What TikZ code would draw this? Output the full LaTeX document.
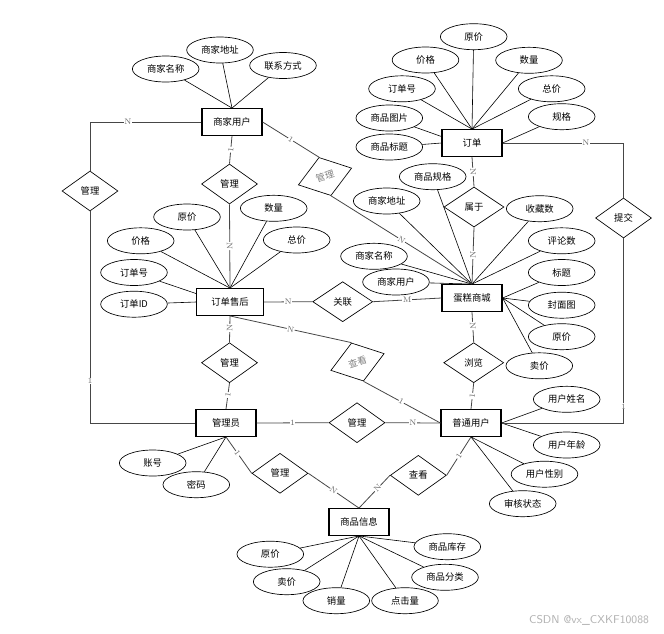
\documentclass[tikz,border=0pt]{standalone}
\usepackage{fontspec}
\usepackage{xcolor}
\usepackage{tikz}
\usetikzlibrary{shapes.geometric}
\newfontfamily\cjk{Noto Sans CJK SC}
\definecolor{cardgray}{RGB}{105,105,105}
\definecolor{linkgray}{RGB}{70,70,70}

\begin{document}
\begin{tikzpicture}[x=0.75pt, y=-0.75pt, font=\cjk\fontsize{7}{8}\selectfont,
    entity/.style={draw, line width=0.9pt, minimum width=45pt, minimum height=20pt, inner sep=1pt},
    attr/.style={draw, ellipse, line width=0.5pt, minimum width=50pt, minimum height=19.5pt, inner sep=0pt},
    rel/.style={draw, diamond, line width=0.5pt, minimum width=42pt, minimum height=30pt, inner sep=0pt},
    relwide/.style={rel, minimum width=45pt},
    reltilt/.style={rel, rotate=17.5, text=gray},
    link/.style={draw=linkgray, line width=0.6pt},
    attrline/.style={draw, line width=0.45pt},
    card/.style={font=\rmfamily\fontsize{6}{6}\selectfont, text=cardgray, fill=white, inner sep=0.3pt}]

    \useasboundingbox (0,0) rectangle (664,633);

    % Entities
    \node[entity] (merchant)  at (232,122) {商家用户};
    \node[entity] (order)     at (472,143) {订单};
    \node[entity, minimum width=50pt] (afterSale) at (230,302) {订单售后};
    \node[entity] (shop)      at (472,298) {蛋糕商城};
    \node[entity] (admin)     at (226,423) {管理员};
    \node[entity] (user)      at (471,423) {普通用户};
    \node[entity] (goods)     at (359,522) {商品信息};

    % Relationships
    \node[rel]     (mgrMerchantAdmin) at (90,191)     {管理};
    \node[rel]     (mgrMerchantAfter) at (229.5,184)  {管理};
    \node[reltilt] (mgrMerchantShop)  at (325,176.5)  {管理};
    \node[relwide] (belong)           at (474,207)    {属于};
    \node[rel]     (submit)           at (623.5,218)  {提交};
    \node[relwide] (assoc)            at (342.7,301.7){关联};
    \node[reltilt] (viewAfter)        at (357.5,362)  {查看};
    \node[rel]     (mgrAfterAdmin)    at (229.5,362.7){管理};
    \node[relwide] (browse)           at (473.7,362.7){浏览};
    \node[rel]     (mgrAdminUser)     at (357,422.7)  {管理};
    \node[rel]     (mgrAdminGoods)    at (280,473.3)  {管理};
    \node[rel]     (viewGoods)        at (418.3,475.3){查看};

    % Attributes of 商家用户
    \foreach \n/\x/\y/\t in {mA/165.7/69/商家名称, mB/220/50/商家地址, mC/283/65.5/联系方式} {
        \node[attr] (\n) at (\x,\y) {\t};
        \draw[attrline] (\n) -- (merchant.north);
    }
    % Attributes of 订单
    \foreach \n/\x/\y/\t/\a in {oA/473.7/36.7/原价/north, oB/425.5/60/价格/north,
        oC/529/60.3/数量/north, oD/402/88.8/订单号/north, oE/551.7/88.8/总价/north,
        oF/389.3/118/商品图片/168, oG/561.7/116.7/规格/east, oH/389.3/147/商品标题/west} {
        \node[attr] (\n) at (\x,\y) {\t};
        \draw[attrline] (\n) -- (order.\a);
    }
    % Attributes of 订单售后
    \foreach \n/\x/\y/\t/\a in {aA/187/217/原价/north, aB/273.7/208.3/数量/north,
        aC/140.7/240.8/价格/north, aD/296.7/240/总价/north,
        aE/134/272.5/订单号/166, aF/134/304.2/订单ID/west} {
        \node[attr] (\n) at (\x,\y) {\t};
        \draw[attrline] (\n) -- (afterSale.\a);
    }
    % Attributes of 蛋糕商城
    \foreach \n/\x/\y/\t/\a in {sA/432.7/176.7/商品规格/north, sB/386.7/201/商家地址/north,
        sC/539.7/208.7/收藏数/north, sD/561.7/240.8/评论数/north,
        sE/374/256.3/商家名称/north, sF/396/282/商家用户/north,
        sG/561.7/272.5/标题/east, sH/561.7/305.2/封面图/east,
        sI/561.7/336.7/原价/east, sJ/539.3/365.8/卖价/east} {
        \node[attr] (\n) at (\x,\y) {\t};
        \draw[attrline] (\n) -- (shop.\a);
    }
    % Attributes of 普通用户
    \foreach \n/\x/\y/\t/\a in {uA/566.7/399.3/用户姓名/east, uB/566.7/445/用户年龄/east,
        uC/544.5/474.2/用户性别/south, uD/522.7/503.7/审核状态/south} {
        \node[attr] (\n) at (\x,\y) {\t};
        \draw[attrline] (\n) -- (user.\a);
    }
    % Attributes of 管理员
    \foreach \n/\x/\y/\t in {dA/152.7/463/账号, dB/196.3/484.7/密码} {
        \node[attr] (\n) at (\x,\y) {\t};
        \draw[attrline] (\n) -- (admin.south);
    }
    % Attributes of 商品信息
    \foreach \n/\x/\y/\t in {gA/270.3/554.2/原价, gB/286.7/581.7/卖价, gC/336.3/600.7/销量,
        gD/405/600.7/点击量, gE/447.3/546.7/商品库存, gF/445/577.3/商品分类} {
        \node[attr] (\n) at (\x,\y) {\t};
        \draw[attrline] (\n) -- (goods.south);
    }

    % Connectors with cardinalities
    \draw[link] (merchant.west) -| (mgrMerchantAdmin.north) node[card, pos=0.33] {N};
    \draw[link] (mgrMerchantAdmin.south) |- (admin.west) node[card, pos=0.4] {1};
    \draw[link] (merchant.south) -- (mgrMerchantAfter.north) node[card, sloped, midway] {1};
    \draw[link] (mgrMerchantAfter.south) -- (afterSale.north) node[card, sloped, midway] {N};
    \draw[link] (merchant.east) -- (mgrMerchantShop.north) node[card, sloped, midway] {1};
    \draw[link] (mgrMerchantShop.south) -- (shop.north) node[card, sloped, midway] {N};
    \draw[link] (order.south) -- (belong.north) node[card, sloped, midway] {N};
    \draw[link] (belong.south) -- (shop.north) node[card, sloped, pos=0.49] {N};
    \draw[link] (order.east) -| (submit.north) node[card, pos=0.345] {N};
    \draw[link] (submit.south) |- (user.east) node[card, pos=0.455] {1};
    \draw[link] (afterSale.east) -- (assoc.west) node[card, midway] {N};
    \draw[link] (assoc.east) -- (shop.west) node[card, midway] {M};
    \draw[link] (afterSale.south) -- (viewAfter.north) node[card, sloped, midway] {N};
    \draw[link] (viewAfter.south) -- (user.west) node[card, sloped, pos=0.49] {1};
    \draw[link] (afterSale.south) -- (mgrAfterAdmin.north) node[card, sloped, pos=0.45] {N};
    \draw[link] (mgrAfterAdmin.south) -- (admin.north) node[card, sloped, pos=0.46] {1};
    \draw[link] (shop.south) -- (browse.north) node[card, sloped, pos=0.46] {N};
    \draw[link] (browse.south) -- (user.north) node[card, sloped, midway] {1};
    \draw[link] (admin.east) -- (mgrAdminUser.west) node[card, midway] {1};
    \draw[link] (mgrAdminUser.east) -- (user.west) node[card, midway] {N};
    \draw[link] (admin.south) -- (mgrAdminGoods.west) node[card, sloped, pos=0.45] {1};
    \draw[link] (mgrAdminGoods.east) -- (goods.north) node[card, sloped, midway] {N};
    \draw[link] (user.south) -- (viewGoods.east) node[card, sloped, midway] {1};
    \draw[link] (viewGoods.west) -- (goods.north) node[card, sloped, pos=0.4] {N};

    \node[font=\sffamily\fontsize{8.5}{9}\selectfont, text=gray!60] (watermark) at (589,620) {CSDN @vx\_CXKF10088};
\end{tikzpicture}
\end{document}
